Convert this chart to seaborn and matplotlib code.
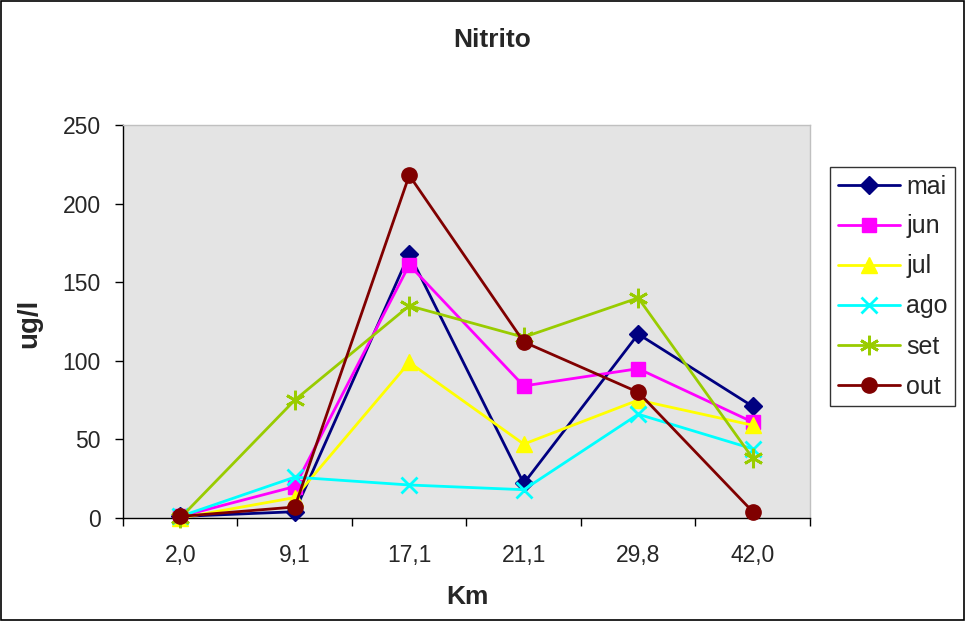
import matplotlib
matplotlib.use("Agg")
import matplotlib.pyplot as plt
import matplotlib.patches as mpatches
from matplotlib.ticker import FixedLocator
import seaborn as sns
import pandas as pd

km = ["2,0", "9,1", "17,1", "21,1", "29,8", "42,0"]
mai = [1, 4, 168, 22, 117, 71]
jun = [1, 20, 161, 84, 95, 61]
jul = [0, 13, 99, 47, 75, 59]
ago = [1, 26, 21, 18, 66, 44]
set_ = [0, 75, 135, 115, 140, 38]
out = [1, 7, 218, 112, 80, 4]

series = {"mai": mai, "jun": jun, "jul": jul, "ago": ago, "set": set_, "out": out}
colors = {"mai": "#000080", "jun": "#ff00ff", "jul": "#ffff00",
          "ago": "#00ffff", "set": "#99cc00", "out": "#800000"}
markers = {"mai": "D", "jun": "s", "jul": "^", "ago": "x", "set": (6, 2, 0), "out": "o"}
msize = {"mai": 9, "jun": 10, "jul": 11, "ago": 11, "set": 14, "out": 11}

rows = []
for name, vals in series.items():
    for i, v in enumerate(vals):
        rows.append({"pos": i, "Km": km[i], "val": v, "mes": name})
df = pd.DataFrame(rows)

sns.set_theme(style="white")
plt.rcParams["font.family"] = ["Liberation Sans", "DejaVu Sans"]

W, H = 966, 621
fig = plt.figure(figsize=(W / 100, H / 100), dpi=100)
L, R, T, B = 123, 810, 125, 518
ax = fig.add_axes([L / W, 1 - B / H, (R - L) / W, (B - T) / H])
ax.set_facecolor("#e4e4e4")

for name in series:
    sub = df[df["mes"] == name]
    sns.lineplot(data=sub, x="pos", y="val", ax=ax, color=colors[name],
                 marker=markers[name], markersize=msize[name], linewidth=2,
                 markeredgecolor=colors[name],
                 markeredgewidth=2 if name in ("ago", "set") else 1,
                 label=name, zorder=3, clip_on=False)

ax.set_xlim(-0.5, 5.5)
ax.set_ylim(0, 250)
ax.set_yticks([0, 50, 100, 150, 200, 250])
ax.xaxis.set_major_locator(FixedLocator(range(6)))
ax.set_xticklabels(km)
ax.xaxis.set_minor_locator(FixedLocator([-0.5 + i for i in range(7)]))
ax.tick_params(axis="x", which="major", length=0, labelsize=16.5, pad=18.5)
ax.tick_params(axis="x", which="minor", length=6, width=1, color="black", direction="out", bottom=True)
ax.tick_params(axis="y", length=6, width=1, color="black", direction="out", left=True,
               labelsize=16.5, pad=10)

for s in ["top", "right"]:
    ax.spines[s].set_color("#c0c0c0")
    ax.spines[s].set_linewidth(1)
for s in ["left", "bottom"]:
    ax.spines[s].set_color("black")
    ax.spines[s].set_linewidth(1)

ax.set_xlabel("Km", fontsize=19, fontweight="bold")
ax.set_ylabel("ug/l", fontsize=20, fontweight="bold")
ax.xaxis.set_label_coords((467 - L) / (R - L), (B - 585) / (B - T))
ax.yaxis.set_label_coords((42 - L) / (R - L), (B - 323) / (B - T))
fig.text(492 / W, 1 - 40 / H, "Nitrito", ha="center", va="center",
         fontsize=19, fontweight="bold")

leg = ax.legend(loc="upper left", bbox_to_anchor=(830 / W, 1 - 167 / H),
                bbox_transform=fig.transFigure, frameon=True, fancybox=False,
                fontsize=18, handlelength=2.5, handletextpad=0.25,
                labelspacing=0.64, borderpad=0.3, borderaxespad=0)
leg.get_frame().set_edgecolor("black")
leg.get_frame().set_linewidth(1)
leg.get_frame().set_facecolor("white")

fig.patches.append(mpatches.Rectangle((0.001, 0.002), 0.997, 0.996, transform=fig.transFigure,
                                      fill=False, edgecolor="black", linewidth=1.2))

fig.savefig("out.png", dpi=100)
